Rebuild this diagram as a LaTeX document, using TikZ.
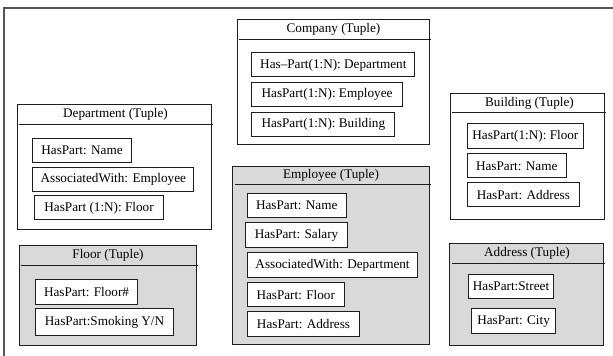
\documentclass[tikz,border=0pt]{standalone}
\usepackage{fontspec}
\setmainfont{Liberation Serif}
\usetikzlibrary{calc}
\definecolor{tuplegray}{RGB}{217,217,217}
\definecolor{framegray}{RGB}{85,85,85}
\definecolor{linedark}{RGB}{30,30,30}
\tikzset{
  tuplebox/.style={draw=linedark, line width=1.1pt, anchor=north west, inner sep=0pt},
  shaded/.style={tuplebox, fill=tuplegray},
  plain/.style={tuplebox, fill=white},
  item/.style={draw=linedark, line width=1.1pt, fill=white, anchor=north west,
    inner sep=0pt, font=\fontsize{13.2}{15}\selectfont},
  tupletitle/.style={inner sep=0pt, font=\fontsize{13.2}{15}\selectfont},
  headline/.style={draw=linedark, line width=1.1pt},
  frameline/.style={draw=framegray, line width=1.2pt}
}
\begin{document}
\begin{tikzpicture}[x=1pt, y=-1pt]
\useasboundingbox (0,0) rectangle (613,356);
% outer frame
\draw[frameline] (4,360) -- (4,8) -- (620,8);

% Company
\node[plain, minimum width=192, minimum height=125] (company) at (236.7,19.3) {};
\node[tupletitle] (companyt) at (333.5,29.3) {Company (Tuple)};
\draw[headline] (239,39.3) -- (431,39.3);
\node[item, minimum width=163, minimum height=24] (c1) at (251.3,52.3) {Has\textendash Part(1:N): Department};
\node[item, minimum width=150.4, minimum height=23.7] (c2) at (251.3,82.3) {HasPart(1:N): Employee};
\node[item, minimum width=143, minimum height=24.3] (c3) at (251.3,112) {HasPart(1:N): Building};

% Department
\node[plain, minimum width=194.6, minimum height=125.3] (dept) at (16.7,104) {};
\node[tupletitle] (deptt) at (115.5,114) {Department (Tuple)};
\draw[headline] (19.3,124.5) -- (213.3,124.5);
\node[item, minimum width=98.4, minimum height=24.3] (d1) at (32.3,138) {HasPart: Name};
\node[item, minimum width=161, minimum height=24] (d2) at (32.3,166.7) {AssociatedWith: Employee};
\node[item, minimum width=129.6, minimum height=24] (d3) at (33.7,195.3) {HasPart (1:N): Floor};

% Floor
\node[shaded, minimum width=177, minimum height=99.4] (floor) at (19,245.3) {};
\node[tupletitle] (floort) at (108,255.5) {Floor (Tuple)};
\draw[headline] (21.3,265.7) -- (198,265.7);
\node[item, minimum width=102.6, minimum height=24.4] (f1) at (34.7,279.3) {HasPart: Floor\#};
\node[item, minimum width=138.6, minimum height=27.3] (f2) at (34.7,308) {HasPart:Smoking Y/N};

% Employee
\node[shaded, minimum width=197, minimum height=178.3] (emp) at (232.3,165.7) {};
\node[tupletitle] (empt) at (331,175.3) {Employee (Tuple)};
\draw[headline] (235,184.7) -- (431,184.7);
\node[item, minimum width=99, minimum height=24.3] (e1) at (246.7,192.7) {HasPart: Name};
\node[item, minimum width=101.4, minimum height=24.7] (e2) at (245.3,222.3) {HasPart: Salary};
\node[item, minimum width=170.6, minimum height=24.4] (e3) at (246.7,252.3) {AssociatedWith: Department};
\node[item, minimum width=97, minimum height=24.6] (e4) at (246.7,281.7) {HasPart: Floor};
\node[item, minimum width=112.6, minimum height=24.4] (e5) at (246.7,311.3) {HasPart: Address};

% Building
\node[plain, minimum width=154, minimum height=125.4] (bldg) at (450.3,93.3) {};
\node[tupletitle] (bldgt) at (529.5,103) {Building (Tuple)};
\draw[headline] (452.3,112.7) -- (606.3,112.7);
\node[item, minimum width=116.3, minimum height=24.7] (b1) at (466.7,123.3) {HasPart(1:N): Floor};
\node[item, minimum width=99, minimum height=24] (b2) at (466.7,153.3) {HasPart: Name};
\node[item, minimum width=112.3, minimum height=24] (b3) at (466.7,182) {HasPart: Address};

% Address
\node[shaded, minimum width=154.3, minimum height=101.4] (addr) at (449,243.3) {};
\node[tupletitle] (addrt) at (527,253.3) {Address (Tuple)};
\draw[headline] (451.7,263.3) -- (605.3,263.3);
\node[item, minimum width=85.6, minimum height=24.3] (a1) at (467.7,274) {HasPart:Street};
\node[item, minimum width=84, minimum height=24.7] (a2) at (471,308.3) {HasPart: City};
\end{tikzpicture}
\end{document}
